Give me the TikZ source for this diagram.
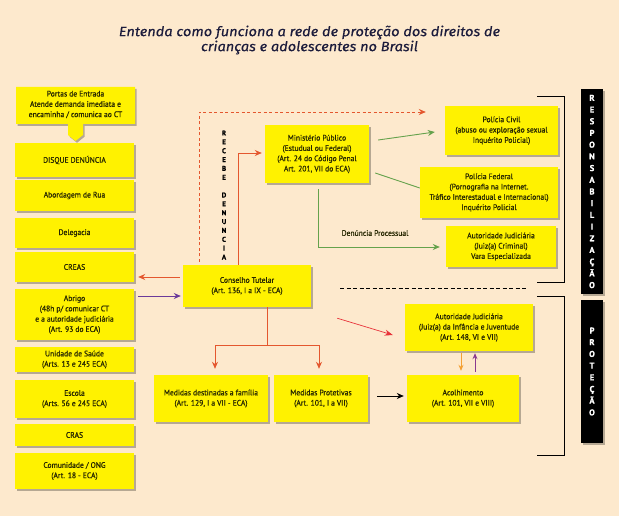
\documentclass[tikz,border=0pt]{standalone}
\usepackage{fontspec}
\newfontfamily\boxfnt{PT Sans}[FakeStretch=0.95,FakeBold=0.7]
\newfontfamily\ttlfnt{Fira Sans}[FakeBold=0.3,FakeStretch=1.08]
\newfontfamily\barfnt{PT Sans}[FakeBold=0.8]
\usetikzlibrary{arrows.meta,calc,shadows}
\definecolor{bg}{HTML}{FDE9CD}
\definecolor{ybox}{HTML}{FFF200}
\definecolor{txt}{HTML}{262600}
\definecolor{redc}{HTML}{E4572E}
\definecolor{purc}{HTML}{6B3A9A}
\definecolor{grc}{HTML}{65A24C}
\definecolor{orc}{HTML}{F4A033}
\definecolor{pur2}{HTML}{8B3A8F}
\definecolor{red2}{HTML}{E8333A}
\definecolor{ttl}{HTML}{1C1C3C}
\begin{document}
\begin{tikzpicture}[x=1pt,y=-1pt,
  shd/.style={drop shadow={shadow xshift=1.5pt,shadow yshift=-1.8pt,opacity=0.28,fill=black}},
  box/.style={fill=ybox, draw=none, shd, align=center,
    font=\boxfnt\fontsize{8}{10.3}\selectfont, text=txt, inner sep=1pt},
  txtonly/.style={align=center, font=\boxfnt\fontsize{8}{10.3}\selectfont, text=txt, inner sep=0pt},
  lbox/.style={box, minimum width=119pt},
  bar/.style={fill=black, shd, minimum width=22pt, align=center, text=white,
    font=\barfnt\bfseries\fontsize{8.5}{11.7}\selectfont, inner sep=0pt},
  vlet/.style={align=center, font=\barfnt\bfseries\fontsize{7}{8.86}\selectfont, text=black, inner sep=0pt},
  tip/.style={-{Stealth[length=7pt,width=6pt]}},
  redarr/.style={tip, draw=redc, line width=0.9pt},
  purarr/.style={tip, draw=purc, line width=0.9pt},
  grarr/.style={tip, draw=grc, line width=0.9pt},
  grline/.style={draw=grc, line width=0.9pt},
  blkarr/.style={tip, draw=black, line width=0.9pt},
  orarr/.style={-{Stealth[length=6pt,width=5pt]}, draw=orc, line width=0.9pt},
  pu2arr/.style={-{Stealth[length=6pt,width=5pt]}, draw=pur2, line width=0.9pt},
  rd2arr/.style={-{Stealth[length=8pt,width=6pt]}, draw=red2, line width=0.7pt},
  reddash/.style={tip, draw=redc, line width=0.8pt, dash pattern=on 3pt off 2.5pt},
  brk/.style={draw=black, line width=0.9pt}
]
\useasboundingbox (0,0) rectangle (619,516);
\fill[bg] (0,0) rectangle (619,516);

% title
\node[font=\ttlfnt\itshape\fontsize{13.5}{15}\selectfont, text=ttl, align=center] (title) at (309.5,40)
  {Entenda como funciona a rede de proteção dos direitos de\\crianças e adolescentes no Brasil};

% Portas de entrada
\fill[ybox, shd] (16,87) -- (135,87) -- (135,124) -- (83,124) -- (83,135) -- (75.5,141) -- (68,135) -- (68,124) -- (16,124) -- cycle;
\node[txtonly] (portas) at (75.5,104.5) {Portas de Entrada\\Atende demanda imediata e\\encaminha / comunica ao CT};

% left column
\node[lbox, minimum height=34pt] (disque) at (74.5,160) {DISQUE DENÚNCIA};
\node[lbox, minimum height=31pt] (abord) at (74.5,195.5) {Abordagem de Rua};
\node[lbox, minimum height=30pt] (deleg) at (74.5,233) {Delegacia};
\node[lbox, minimum height=30pt] (creas) at (74.5,267) {CREAS};
\node[lbox, minimum height=51pt] (abrigo) at (74.5,314.5) {Abrigo\\(48h p/ comunicar CT\\e a autoridade judiciária\\(Art. 93 do ECA)};
\node[lbox, minimum height=25pt] (saude) at (74.5,359.5) {Unidade de Saúde\\(Arts. 13 e 245 ECA)};
\node[lbox, minimum height=38pt] (escola) at (74.5,399) {Escola\\(Arts. 56 e 245 ECA)};
\node[lbox, minimum height=22pt] (cras) at (74.5,435) {CRAS};
\node[lbox, minimum height=36pt] (ong) at (74.5,471) {Comunidade / ONG\\(Art. 18 - ECA)};

% centre
\node[box, minimum width=128pt, minimum height=42pt] (CT) at (247,286) {Conselho Tutelar\\(Art. 136, I a IX - ECA)};
\node[box, minimum width=104pt, minimum height=58pt] (MP) at (317,154) {Ministério Público\\(Estudual ou Federal)\\(Art. 24 do Código Penal\\Art. 201, VII do ECA)};
\node[box, minimum width=114pt, minimum height=47pt] (medfam) at (211,398.5) {Medidas destinadas a família\\(Art. 129, I a VII - ECA)};
\node[box, minimum width=94pt, minimum height=47pt] (medprot) at (321,398.5) {Medidas Protetivas\\(Art. 101, I a VII)};
\node[box, minimum width=112pt, minimum height=47pt] (acolh) at (463,398.5) {Acolhimento\\(Art. 101, VII e VIII)};
\node[box, minimum width=128pt, minimum height=47pt] (autinf) at (469,327.5) {Autoridade Judiciária\\(Juiz(a) da Infância e Juventude\\(Art. 148, VI e VII)};

% right
\node[box, minimum width=113pt, minimum height=49pt] (pcivil) at (501.5,130.5) {Polícia Civil\\(abuso ou exploração sexual\\Inquérito Policial)};
\node[box, minimum width=138pt, minimum height=51pt] (pfed) at (489,192.5) {Polícia Federal\\(Pornografia na Internet.\\Tráfico Interestadual e Internacional)\\Inquérito Policial};
\node[box, minimum width=110pt, minimum height=41pt] (autcrim) at (501,246.5) {Autoridade Judiciária\\(Juiz(a) Criminal)\\Vara Especializada};

% vertical labels
\node[vlet] (recebe) at (224,195) {R\\E\\C\\E\\B\\E\\[8.86pt]D\\E\\N\\U\\N\\C\\I\\A};
\node[bar, minimum height=205pt] (resp) at (592,191.5) {R\\E\\S\\P\\O\\N\\S\\A\\B\\I\\L\\I\\Z\\A\\Ç\\Ã\\O};
\node[bar, minimum height=143pt] (prot) at (592,371.5) {P\\R\\O\\T\\E\\Ç\\Ã\\O};

% brackets and separator
\draw[brk] (537,96) -- (564,96) -- (564,282) -- (537,282);
\draw[brk] (537,296) -- (564,296) -- (564,455) -- (537,455);
\draw[black, line width=0.8pt, dash pattern=on 4pt off 2.5pt] (340,288) -- (526,288);

% connectors
\coordinate (ctw) at ($(CT.west)+(-3,-9)$);
\draw[redarr, shorten >=4pt] (ctw) -- (ctw -| creas.east);
\coordinate (abe) at ($(abrigo.east)+(4,-18.5)$);
\draw[purarr, shorten >=2pt] (abe) -- (abe -| CT.west);

\coordinate (ctb) at ($(CT.south)+(20,0)$);
\draw[redarr] (ctb) |- ($(medfam.north)+(4,-29)$) -- ($(medfam.north)+(4,-6)$);
\draw[redarr] (ctb) |- ($(medprot.north)+(-2,-29)$) -- ($(medprot.north)+(-2,-6)$);

\coordinate (mpe) at ($(medprot.east)+(9,-2.5)$);
\draw[blkarr, shorten >=3pt] (mpe) -- (mpe -| acolh.west);

\draw[orarr] ($(autinf.south)+(-8,2)$) -- ($(acolh.north)+(-2,-4)$);
\draw[pu2arr] ($(acolh.north)+(12,-3)$) -- ($(autinf.south)+(6,2)$);

\draw[rd2arr] ($(CT.south east)+(26,11)$) -- ($(autinf.west)+(-12,7.5)$);

\draw[reddash] ($(CT.north)+(-48,-3)$) |- ($(pcivil.west)+(-19,-18.5)$);
\draw[redarr] ($(CT.north)+(-9,0)$) |- ($(MP.west)+(-3,-1)$);

\draw[grarr] ($(MP.east)+(9,-14)$) -- ($(pcivil.west)+(-10,1.5)$);
\draw[grline] ($(MP.east)+(6,19)$) -- ($(pfed.west)+(0,-4.5)$);
\draw[grarr] ($(MP.south)+(1,6)$) |- ($(autcrim.west)+(-6,0.5)$);
\node[font=\boxfnt\fontsize{8}{10}\selectfont, text=txt] (dproc) at (375,233) {Denúncia Processual};
\end{tikzpicture}
\end{document}
